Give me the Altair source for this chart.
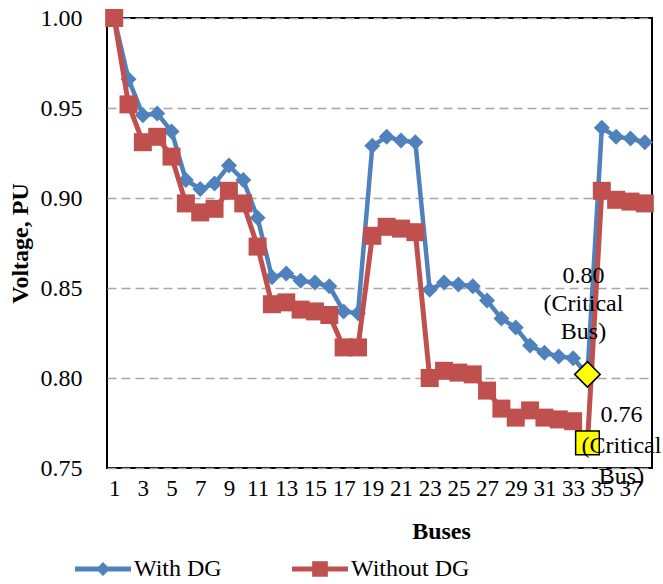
import altair as alt
import pandas as pd

buses = list(range(1, 39))
with_dg = [1.000, 0.966, 0.946, 0.947, 0.937, 0.910, 0.905, 0.908, 0.918, 0.910, 0.889,
           0.856, 0.858, 0.854, 0.853, 0.851, 0.837, 0.836,
           0.929, 0.934, 0.932, 0.931,
           0.849, 0.853, 0.852, 0.851, 0.843, 0.833, 0.828, 0.818, 0.814, 0.812, 0.811, 0.802,
           0.939, 0.934, 0.933, 0.931]
without_dg = [1.000, 0.952, 0.931, 0.934, 0.923, 0.897, 0.892, 0.894, 0.904, 0.897, 0.873,
              0.841, 0.842, 0.838, 0.837, 0.835, 0.817, 0.817,
              0.879, 0.884, 0.883, 0.881,
              0.800, 0.804, 0.803, 0.802, 0.793, 0.783, 0.778, 0.782, 0.778, 0.777, 0.776, 0.764,
              0.904, 0.899, 0.898, 0.897]
series_names = ["With DG", "Without DG"]
series_colors = ["#4F81BD", "#C0504D"]
critical_bus = 34
crit_labels = ["0.80\n(Critical\nBus)", "0.76\n(Critical\nBus)"]
x_tick_values = list(range(1, 38, 2))
y_tick_values = [0.75, 0.80, 0.85, 0.90, 0.95, 1.00]

FONT = "Liberation Serif"

df_with = pd.DataFrame({"bus": buses, "voltage": with_dg, "series": series_names[0]})
df_without = pd.DataFrame({"bus": buses, "voltage": without_dg, "series": series_names[1]})
df_all = pd.concat([df_with, df_without], ignore_index=True)

x_enc = alt.X("bus:Q",
              scale=alt.Scale(domain=[0.5, 38.5], nice=False, zero=False),
              axis=alt.Axis(values=x_tick_values, labelOverlap=False, labelSeparation=0,
                            labelBound=False, grid=False,
                            title="Buses", labelPadding=9, labelFontSize=23,
                            titleX=334, titleY=63, titleAlign="center",
                            titleBaseline="middle"))
y_enc = alt.Y("voltage:Q",
              scale=alt.Scale(domain=[0.75, 1.0], nice=False, zero=False),
              axis=alt.Axis(values=y_tick_values, format=".2f", grid=True,
                            gridDash=[9, 5], gridColor="#A6A6A6", gridWidth=1.5,
                            title="Voltage, PU", labelPadding=25,
                            titleX=-87, titleY=225, titleAngle=270,
                            titleAlign="center", titleBaseline="middle"))

base_with = alt.Chart(df_with)
base_without = alt.Chart(df_without)

line_with = base_with.mark_line(color=series_colors[0], strokeWidth=4.5).encode(x=x_enc, y=y_enc)
pts_with = base_with.mark_point(shape="diamond", filled=True, opacity=1,
                                color=series_colors[0], size=256).encode(x=x_enc, y=y_enc)
line_without = base_without.mark_line(color=series_colors[1], strokeWidth=5).encode(x=x_enc, y=y_enc)
pts_without = base_without.mark_point(shape="square", filled=True, opacity=1,
                                      color=series_colors[1], size=324).encode(x=x_enc, y=y_enc)

crit_with = alt.Chart(df_with[df_with.bus == critical_bus]).mark_point(
    shape="diamond", filled=True, opacity=1, fill="#FFFF00", stroke="black",
    strokeWidth=1.5, size=650).encode(x=x_enc, y=y_enc)
crit_without = alt.Chart(df_without[df_without.bus == critical_bus]).mark_point(
    shape="square", filled=True, opacity=1, fill="#FFFF00", stroke="black",
    strokeWidth=1.5, size=560).encode(x=x_enc, y=y_enc)

ann_with = alt.Chart(df_with[df_with.bus == critical_bus].assign(label=crit_labels[0])).mark_text(
    font=FONT, fontSize=24, color="black", lineBreak="\n", lineHeight=28,
    align="center", baseline="middle", dx=-4, dy=-98).encode(x=x_enc, y=y_enc, text="label:N")
ann_without = alt.Chart(df_without[df_without.bus == critical_bus].assign(label=crit_labels[1])).mark_text(
    font=FONT, fontSize=24, color="black", lineBreak="\n", lineHeight=31,
    align="center", baseline="middle", dx=34, dy=-28).encode(x=x_enc, y=y_enc, text="label:N")

legend_shapes = [
    "M-1,-0.09L1,-0.09L1,0.09L-1,0.09Z M0,-0.25L0.25,0L0,0.25L-0.25,0Z",
    "M-1,-0.09L1,-0.09L1,0.09L-1,0.09Z M-0.28,-0.28L0.28,-0.28L0.28,0.28L-0.28,0.28Z",
]
legend_layer = alt.Chart(df_all).mark_point(filled=True, opacity=1).encode(
    x=x_enc, y=y_enc,
    color=alt.Color("series:N", scale=alt.Scale(domain=series_names, range=series_colors),
                    legend=alt.Legend(title=None, orient="none", direction="horizontal",
                                      legendX=-32, legendY=523, symbolSize=3136,
                                      symbolStrokeWidth=0, labelOffset=3,
                                      columnPadding=70, padding=0,
                                      labelFont=FONT, labelFontSize=24, labelColor="black")),
    shape=alt.Shape("series:N", scale=alt.Scale(domain=series_names, range=legend_shapes)),
).transform_filter("false")

chart = alt.layer(
    line_with, pts_with, line_without, pts_without, crit_with, crit_without,
    ann_with, ann_without, legend_layer
).properties(
    width=545, height=450,
    background="white",
    autosize=alt.AutoSizeParams(type="none"),
    padding={"left": 107, "top": 18, "right": 11, "bottom": 116},
).configure_view(
    stroke="black", strokeWidth=2
).configure_axis(
    labelFont=FONT, labelFontSize=24, labelColor="black",
    titleFont=FONT, titleFontSize=24, titleFontWeight="bold", titleColor="black",
    domain=False, ticks=False, labelOverlap=False
)

chart.save("out.html", embed_options={"renderer": "svg", "actions": False})
